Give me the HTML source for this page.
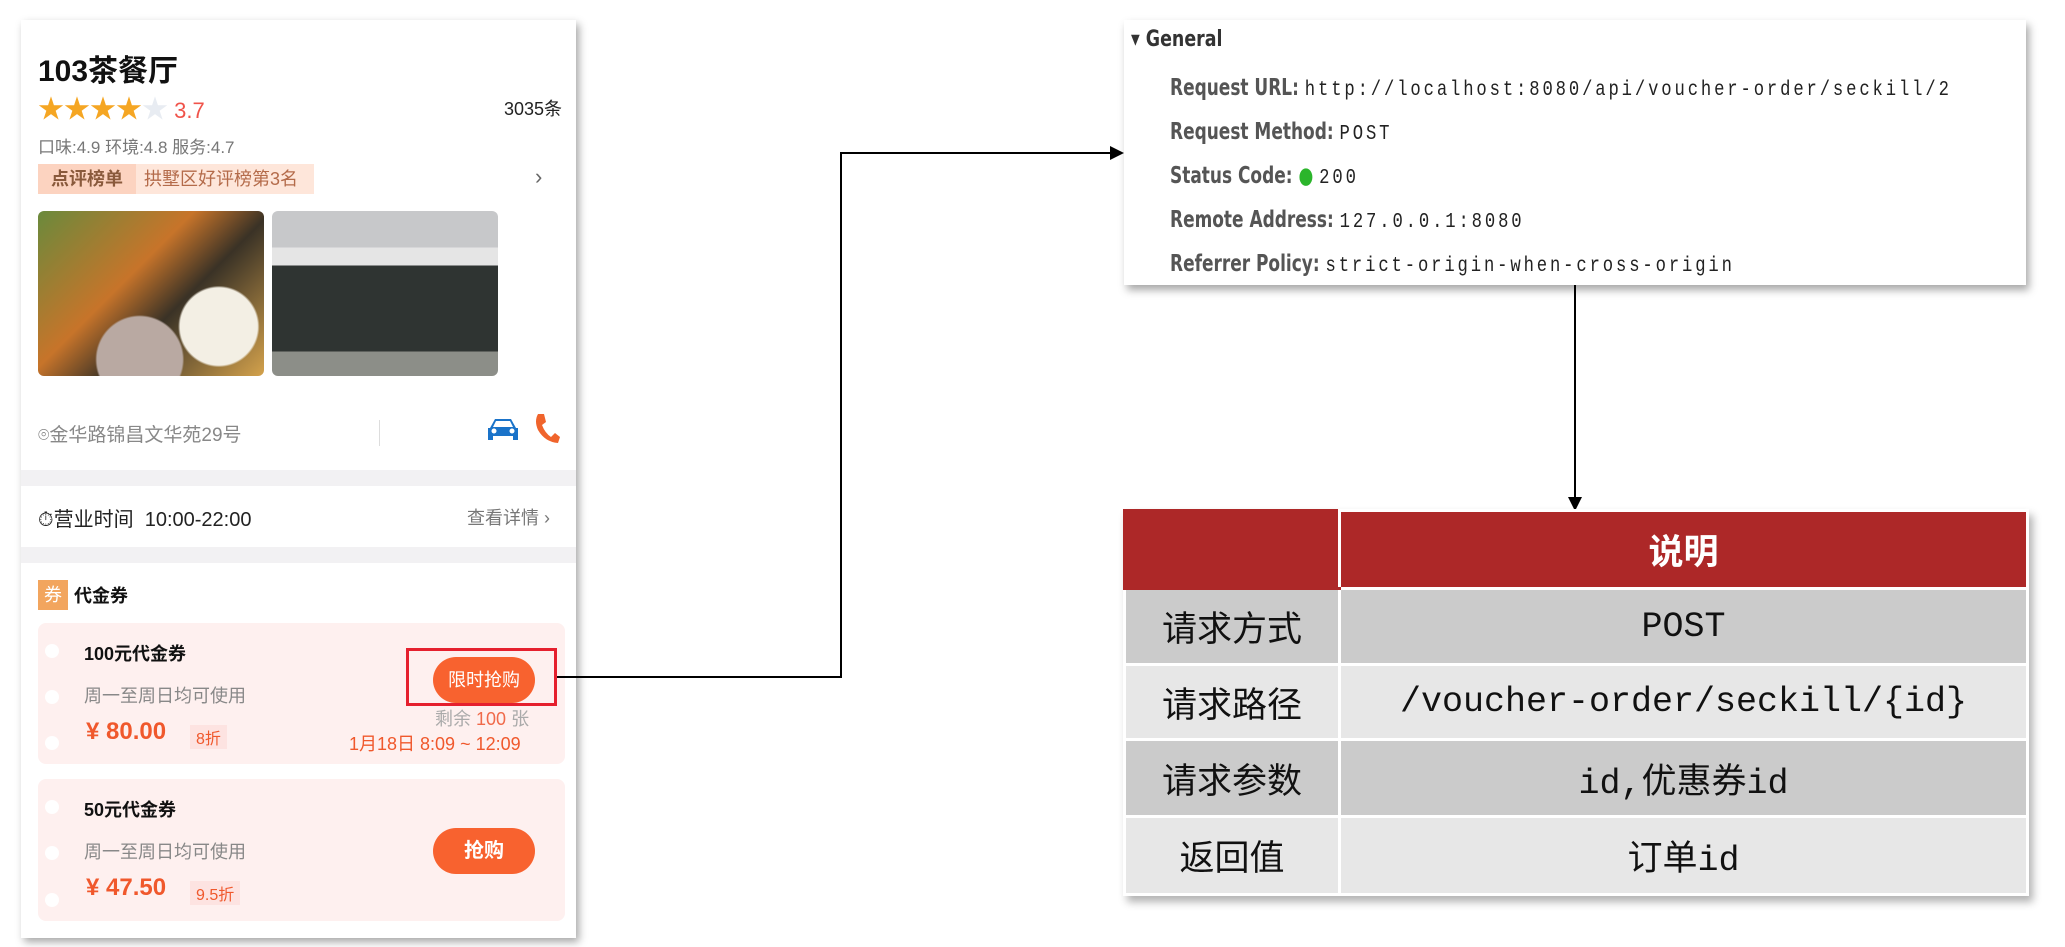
<!DOCTYPE html>
<html><head><meta charset="utf-8"><style>
*{margin:0;padding:0;box-sizing:border-box}
body{width:2065px;height:947px;background:#fff;position:relative;overflow:hidden;font-family:"Liberation Sans","Noto Sans CJK SC",sans-serif}
.a{position:absolute;white-space:nowrap}
.card{position:absolute;left:21px;top:20px;width:555px;height:918px;background:#fff;box-shadow:3px 4px 8px rgba(0,0,0,.35)}
.band{position:absolute;left:21px;width:555px;background:#f2f1f3}
.cp{position:absolute;left:38px;width:527px;background:#fef0ef;border-radius:8px}
.dot{position:absolute;width:14px;height:14px;border-radius:50%;background:#fff}
.gen{position:absolute;left:1124px;top:20px;width:902px;height:265px;background:#fff;box-shadow:3px 5px 8px rgba(0,0,0,.35)}
.lb{font-family:"DejaVu Sans Condensed","Liberation Sans",sans-serif;font-size:23px;font-weight:bold;color:#555;transform:scaleX(.82);transform-origin:left}
.mn{font-family:"Liberation Mono",monospace;font-size:21px;font-weight:normal;color:#222;letter-spacing:3.5px}
td{font-family:"Liberation Mono","Noto Sans CJK SC",monospace;font-size:35px;color:#111;text-align:center;border:3px solid #fff}
</style></head><body>
<div class="card"></div>
<div class="a" style="left:38px;top:46px;font-size:30px;font-weight:bold;color:#111">103茶餐厅</div>
<div class="a" style="left:38px;top:89px;font-size:26px;color:#f5a623;letter-spacing:0px">★★★★<span style="color:#e8ecf2">★</span><span style="color:#f0534a;font-size:22px"> 3.7</span></div>
<div class="a" style="left:504px;top:95px;font-size:18px;color:#222">3035条</div>
<div class="a" style="left:38px;top:133px;font-size:17px;color:#777">口味:4.9 环境:4.8 服务:4.7</div>
<div class="a" style="left:38px;top:164px;width:98px;height:30px;background:#fcd3c0;font-size:18px;font-weight:bold;color:#8a5a3c;line-height:30px;text-align:center">点评榜单</div>
<div class="a" style="left:136px;top:164px;width:178px;height:30px;background:#fee6da;font-size:18px;color:#b46b4a;line-height:30px;padding-left:8px">拱墅区好评榜第3名</div>
<div class="a" style="left:535px;top:164px;font-size:22px;color:#666">›</div>
<div class="a" style="left:38px;top:211px;width:226px;height:165px;border-radius:6px;background:radial-gradient(circle at 80% 70%,#f3efe4 0 18%,transparent 19%),radial-gradient(circle at 45% 90%,#b9a9a2 0 22%,transparent 23%),linear-gradient(135deg,#6a8a3c,#c7742a 40%,#3a3226 60%,#d4a24c)"></div>
<div class="a" style="left:272px;top:211px;width:226px;height:165px;border-radius:6px;background:linear-gradient(#c7c8ca 0 22%,#e5e5e5 22% 33%,#2f3432 33% 85%,#8c8e88 85%)"></div>
<div class="a" style="left:38px;top:420px;font-size:19px;color:#888">⌾金华路锦昌文华苑29号</div>
<div class="a" style="left:379px;top:420px;width:1px;height:26px;background:#ddd"></div>
<svg class="a" style="left:486px;top:416px" width="34" height="28" viewBox="0 0 34 28"><path d="M4 12 L9 3 H25 L30 12 H32 V24 H27 V20 H7 V24 H2 V12 Z" fill="#1a73c9"/><circle cx="8" cy="15" r="2.5" fill="#fff"/><circle cx="26" cy="15" r="2.5" fill="#fff"/><path d="M10 5 H24 L27 11 H7 Z" fill="#fff"/></svg>
<svg class="a" style="left:533px;top:412px" width="28" height="32" viewBox="0 0 28 32"><path d="M5 2 L11 2 L13 10 L9 13 Q12 21 18 25 L22 21 L27 25 L25 31 Q12 30 5 18 Q1 9 5 2 Z" fill="#f0642c"/></svg>
<div class="band" style="top:470px;height:16px"></div>
<div class="a" style="left:38px;top:503px;font-size:20px;color:#222">⏱营业时间&nbsp;&nbsp;10:00-22:00</div>
<div class="a" style="left:467px;top:504px;font-size:18px;color:#777">查看详情 ›</div>
<div class="band" style="top:547px;height:16px"></div>
<div class="a" style="left:38px;top:580px;width:30px;height:30px;background:#f2a55e;color:#fff;font-size:18px;line-height:30px;text-align:center">券</div>
<div class="a" style="left:74px;top:582px;font-size:18px;font-weight:bold;color:#111">代金券</div>
<div class="cp" style="top:623px;height:141px"></div>
<div class="dot" style="left:45px;top:644px"></div><div class="dot" style="left:45px;top:690px"></div><div class="dot" style="left:45px;top:736px"></div>
<div class="a" style="left:84px;top:640px;font-size:18px;font-weight:bold;color:#111">100元代金券</div>
<div class="a" style="left:84px;top:682px;font-size:18px;color:#888">周一至周日均可使用</div>
<div class="a" style="left:86px;top:718px;font-size:24px;font-weight:bold;color:#f0582c">¥ 80.00</div>
<div class="a" style="left:190px;top:725px;font-size:16px;color:#f0582c;background:#fde3e1;padding:0 6px">8折</div>
<div class="a" style="left:433px;top:657px;width:102px;height:46px;border-radius:23px;background:#f8622f;color:#fff;font-size:18px;line-height:46px;text-align:center">限时抢购</div>
<div class="a" style="left:406px;top:648px;width:151px;height:58px;border:3px solid #e5202e"></div>
<div class="a" style="left:435px;top:705px;font-size:18px;color:#aaa">剩余 <span style="color:#f06a4a">100</span> 张</div>
<div class="a" style="left:349px;top:730px;font-size:18px;color:#f0582c">1月18日 8:09 ~ 12:09</div>
<div class="cp" style="top:779px;height:142px"></div>
<div class="dot" style="left:45px;top:800px"></div><div class="dot" style="left:45px;top:846px"></div><div class="dot" style="left:45px;top:893px"></div>
<div class="a" style="left:84px;top:796px;font-size:18px;font-weight:bold;color:#111">50元代金券</div>
<div class="a" style="left:84px;top:838px;font-size:18px;color:#888">周一至周日均可使用</div>
<div class="a" style="left:86px;top:874px;font-size:24px;font-weight:bold;color:#f0582c">¥ 47.50</div>
<div class="a" style="left:190px;top:881px;font-size:16px;color:#f0582c;background:#fde3e1;padding:0 6px">9.5折</div>
<div class="a" style="left:433px;top:828px;width:102px;height:46px;border-radius:23px;background:#f8622f;color:#fff;font-size:20px;font-weight:bold;line-height:46px;text-align:center">抢购</div>

<div class="gen"></div>
<div class="a" style="left:1131px;top:27px;font-size:22px;font-weight:bold;color:#333;font-family:'DejaVu Sans Condensed',sans-serif;transform:scaleX(.88);transform-origin:left">▾ General</div>
<div class="a lb" style="left:1170px;top:75px">Request URL: <span class="mn">http://localhost:8080/api/voucher-order/seckill/2</span></div>
<div class="a lb" style="left:1170px;top:119px">Request Method: <span class="mn">POST</span></div>
<div class="a lb" style="left:1170px;top:163px">Status Code: <span style="color:#2bb52b">●</span> <span class="mn">200</span></div>
<div class="a lb" style="left:1170px;top:207px">Remote Address: <span class="mn">127.0.0.1:8080</span></div>
<div class="a lb" style="left:1170px;top:251px">Referrer Policy: <span class="mn">strict-origin-when-cross-origin</span></div>

<svg class="a" style="left:0;top:0" width="2065" height="947">
<polyline points="557,677 841,677 841,153 1112,153" fill="none" stroke="#000" stroke-width="2"/>
<polygon points="1124,153 1110,146 1110,160" fill="#000"/>
<line x1="1575" y1="285" x2="1575" y2="498" stroke="#000" stroke-width="2"/>
<polygon points="1575,511 1568,497 1582,497" fill="#000"/>
</svg>

<table class="a" style="left:1123px;top:509px;width:906px;border-collapse:collapse;box-shadow:4px 6px 8px rgba(0,0,0,.3)">
<tr style="height:78px;background:#ad2828"><td style="width:215px;border-color:#ad2828 #fff #ad2828 #ad2828"></td><td style="color:#fff;font-weight:bold;font-family:'Noto Sans CJK SC',sans-serif">说明</td></tr>
<tr style="height:76px;background:#cbcbcb"><td style="font-family:'Noto Sans CJK SC',sans-serif">请求方式</td><td>POST</td></tr>
<tr style="height:75px;background:#e7e7e7"><td style="font-family:'Noto Sans CJK SC',sans-serif">请求路径</td><td>/voucher-order/seckill/{id}</td></tr>
<tr style="height:77px;background:#cbcbcb"><td style="font-family:'Noto Sans CJK SC',sans-serif">请求参数</td><td>id,优惠券id</td></tr>
<tr style="height:78px;background:#e7e7e7"><td style="font-family:'Noto Sans CJK SC',sans-serif">返回值</td><td>订单id</td></tr>
</table>
</body></html>
